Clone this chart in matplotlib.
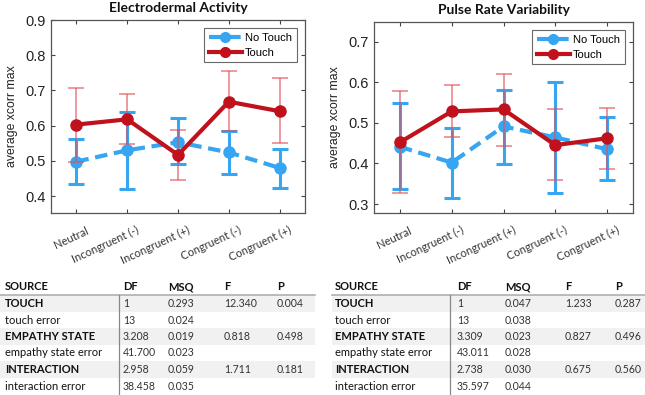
import matplotlib
matplotlib.use("Agg")
import matplotlib.pyplot as plt
from matplotlib.lines import Line2D
from matplotlib.patches import Rectangle
import matplotlib.transforms as mtransforms
import numpy as np

categories = ["Neutral", "Incongruent (-)", "Incongruent (+)", "Congruent (-)", "Congruent (+)"]

# Electrodermal Activity
eda_no_touch = [0.498, 0.530, 0.553, 0.524, 0.480]
eda_no_touch_lo = [0.435, 0.421, 0.491, 0.462, 0.424]
eda_no_touch_hi = [0.562, 0.640, 0.621, 0.586, 0.534]
eda_touch = [0.603, 0.618, 0.517, 0.668, 0.641]
eda_touch_lo = [0.497, 0.548, 0.447, 0.585, 0.551]
eda_touch_hi = [0.707, 0.691, 0.588, 0.755, 0.734]

# Pulse Rate Variability
prv_no_touch = [0.441, 0.402, 0.491, 0.464, 0.435]
prv_no_touch_lo = [0.336, 0.316, 0.399, 0.328, 0.359]
prv_no_touch_hi = [0.548, 0.486, 0.581, 0.601, 0.515]
prv_touch = [0.452, 0.528, 0.533, 0.445, 0.462]
prv_touch_lo = [0.328, 0.464, 0.444, 0.359, 0.386]
prv_touch_hi = [0.577, 0.592, 0.620, 0.533, 0.536]

table_header = ["SOURCE", "DF", "MSQ", "F", "P"]
table_sources = ["TOUCH", "touch error", "EMPATHY STATE", "empathy state error", "INTERACTION", "interaction error"]
eda_df = ["1", "13", "3.208", "41.700", "2.958", "38.458"]
eda_msq = ["0.293", "0.024", "0.019", "0.023", "0.059", "0.035"]
eda_f = ["12.340", "", "0.818", "", "1.711", ""]
eda_p = ["0.004", "", "0.498", "", "0.181", ""]
prv_df = ["1", "13", "3.309", "43.011", "2.738", "35.597"]
prv_msq = ["0.047", "0.038", "0.023", "0.028", "0.030", "0.044"]
prv_f = ["1.233", "", "0.827", "", "0.675", ""]
prv_p = ["0.287", "", "0.496", "", "0.560", ""]

W, H = 645, 395
fig = plt.figure(figsize=(W / 100, H / 100), dpi=100)
fig.patch.set_facecolor("white")

BLUE = "#36a5f2"
RED = "#c0111c"
RED_ERR = "#e0505a"
TXT = "#222222"
TITLE_FONT = ["Lato", "DejaVu Sans"]
TICK_FONT = ["Liberation Sans", "DejaVu Sans"]


def px_axes(x0, y0, x1, y1):
    return fig.add_axes([x0 / W, 1 - y1 / H, (x1 - x0) / W, (y1 - y0) / H])


def draw_panel(ax, title, nt, nt_lo, nt_hi, t, t_lo, t_hi, ylim, yticks):
    x = np.arange(1, len(categories) + 1)
    nt = np.array(nt); t = np.array(t)
    nt_err = [nt - np.array(nt_lo), np.array(nt_hi) - nt]
    t_err = [t - np.array(t_lo), np.array(t_hi) - t]
    ax.errorbar(x, nt, yerr=nt_err, fmt="none", ecolor=BLUE, elinewidth=2.2,
                capsize=6, capthick=2.2, zorder=2)
    ax.plot(x, nt, color=BLUE, lw=3, ls=(0, (3, 1.6)), marker="o", ms=8,
            zorder=3)
    ax.errorbar(x, t, yerr=t_err, fmt="none", ecolor=RED_ERR, elinewidth=1.1,
                capsize=6, capthick=1.1, alpha=0.75, zorder=4)
    ax.plot(x, t, color=RED, lw=3, marker="o", ms=8, zorder=5)
    ax.set_xlim(0.5, 5.5)
    ax.set_ylim(*ylim)
    ax.set_yticks(yticks)
    ax.set_yticklabels([f"{v:.1f}" for v in yticks], family=TICK_FONT,
                       fontsize=10.5, color=TXT)
    ax.set_xticks(x)
    ax.set_xticklabels([])
    trans = (mtransforms.blended_transform_factory(ax.transData, ax.transAxes)
             + mtransforms.ScaledTranslation(13 / 100, -20 / 100,
                                             fig.dpi_scale_trans))
    for xi, lab in zip(x, categories):
        ax.text(xi, 0, lab, transform=trans, rotation=25, ha="right",
                va="baseline", rotation_mode="anchor", family=TITLE_FONT,
                fontsize=8, color="#333333", clip_on=False)
    ax.tick_params(direction="in", length=3, width=0.8, color="#444444",
                   top=True, right=True, pad=4)
    for s in ax.spines.values():
        s.set_color("#555555")
        s.set_linewidth(0.9)
    ax.set_ylabel("average xcorr max", family=TICK_FONT, fontsize=8.8,
                  color=TXT, labelpad=5)
    ax.set_title(title, family=TITLE_FONT, fontweight="bold", fontsize=10,
                 color="#111111", pad=6)
    handles = [
        Line2D([], [], color=BLUE, lw=3, ls=(0, (3, 1.6)), marker="o", ms=7),
        Line2D([], [], color=RED, lw=3, marker="o", ms=7),
    ]
    leg = ax.legend(handles, ["No Touch", "Touch"], loc="upper right",
                    frameon=True, fancybox=False,
                    borderpad=0.4, handlelength=3.0, handletextpad=0.3,
                    labelspacing=0.45, borderaxespad=0.75,
                    prop={"family": TICK_FONT, "size": 8})
    leg.get_frame().set_edgecolor("#444444")
    leg.get_frame().set_linewidth(0.8)


ax1 = px_axes(51, 20, 305, 213)
draw_panel(ax1, "Electrodermal Activity", eda_no_touch, eda_no_touch_lo,
           eda_no_touch_hi, eda_touch, eda_touch_lo, eda_touch_hi,
           (0.352, 0.9), [0.4, 0.5, 0.6, 0.7, 0.8, 0.9])

ax2 = px_axes(374, 22, 633, 213)
draw_panel(ax2, "Pulse Rate Variability", prv_no_touch, prv_no_touch_lo,
           prv_no_touch_hi, prv_touch, prv_touch_lo, prv_touch_hi,
           (0.278, 0.748), [0.3, 0.4, 0.5, 0.6, 0.7])


def draw_table(x0, x1, cols_x, vline_x, df, msq, f, p):
    header_y = 287
    row_y0 = 303.5
    row_h = 16.5
    for i in range(len(table_sources)):
        yc = row_y0 + i * row_h
        if i % 2 == 0:
            fig.patches.append(Rectangle((x0 / W, 1 - (yc + row_h / 2) / H),
                                         (x1 - x0) / W, row_h / H,
                                         transform=fig.transFigure,
                                         facecolor="#f1f1f1", edgecolor="none",
                                         zorder=0))
    fig.add_artist(Line2D([x0 / W, x1 / W], [1 - 294.5 / H, 1 - 294.5 / H],
                          transform=fig.transFigure, color="#b0b0b0", lw=1.2))
    fig.add_artist(Line2D([vline_x / W, vline_x / W], [1 - 295 / H, 1 - 395 / H],
                          transform=fig.transFigure, color="#888888", lw=0.9))
    for c, label in enumerate(table_header):
        fig.text(cols_x[c] / W, 1 - header_y / H, label, family=TITLE_FONT,
                 fontweight="bold", fontsize=8, color="#111111",
                 ha="left", va="center")
    columns = [table_sources, df, msq, f, p]
    for i in range(len(table_sources)):
        yc = row_y0 + i * row_h
        for c, col in enumerate(columns):
            bold = (c == 0 and i % 2 == 0)
            fig.text(cols_x[c] / W, 1 - yc / H, col[i], family=TITLE_FONT,
                     fontweight="bold" if bold else "normal",
                     fontsize=8 if c == 0 else 7.6,
                     color="#111111" if c == 0 else "#333333",
                     ha="left", va="center")


draw_table(0, 315, [5, 123, 168, 224, 277], 119, eda_df, eda_msq, eda_f, eda_p)
draw_table(332, 645, [335, 457, 505, 565, 615], 450, prv_df, prv_msq, prv_f, prv_p)

fig.savefig("out.png", dpi=100, facecolor="white")
